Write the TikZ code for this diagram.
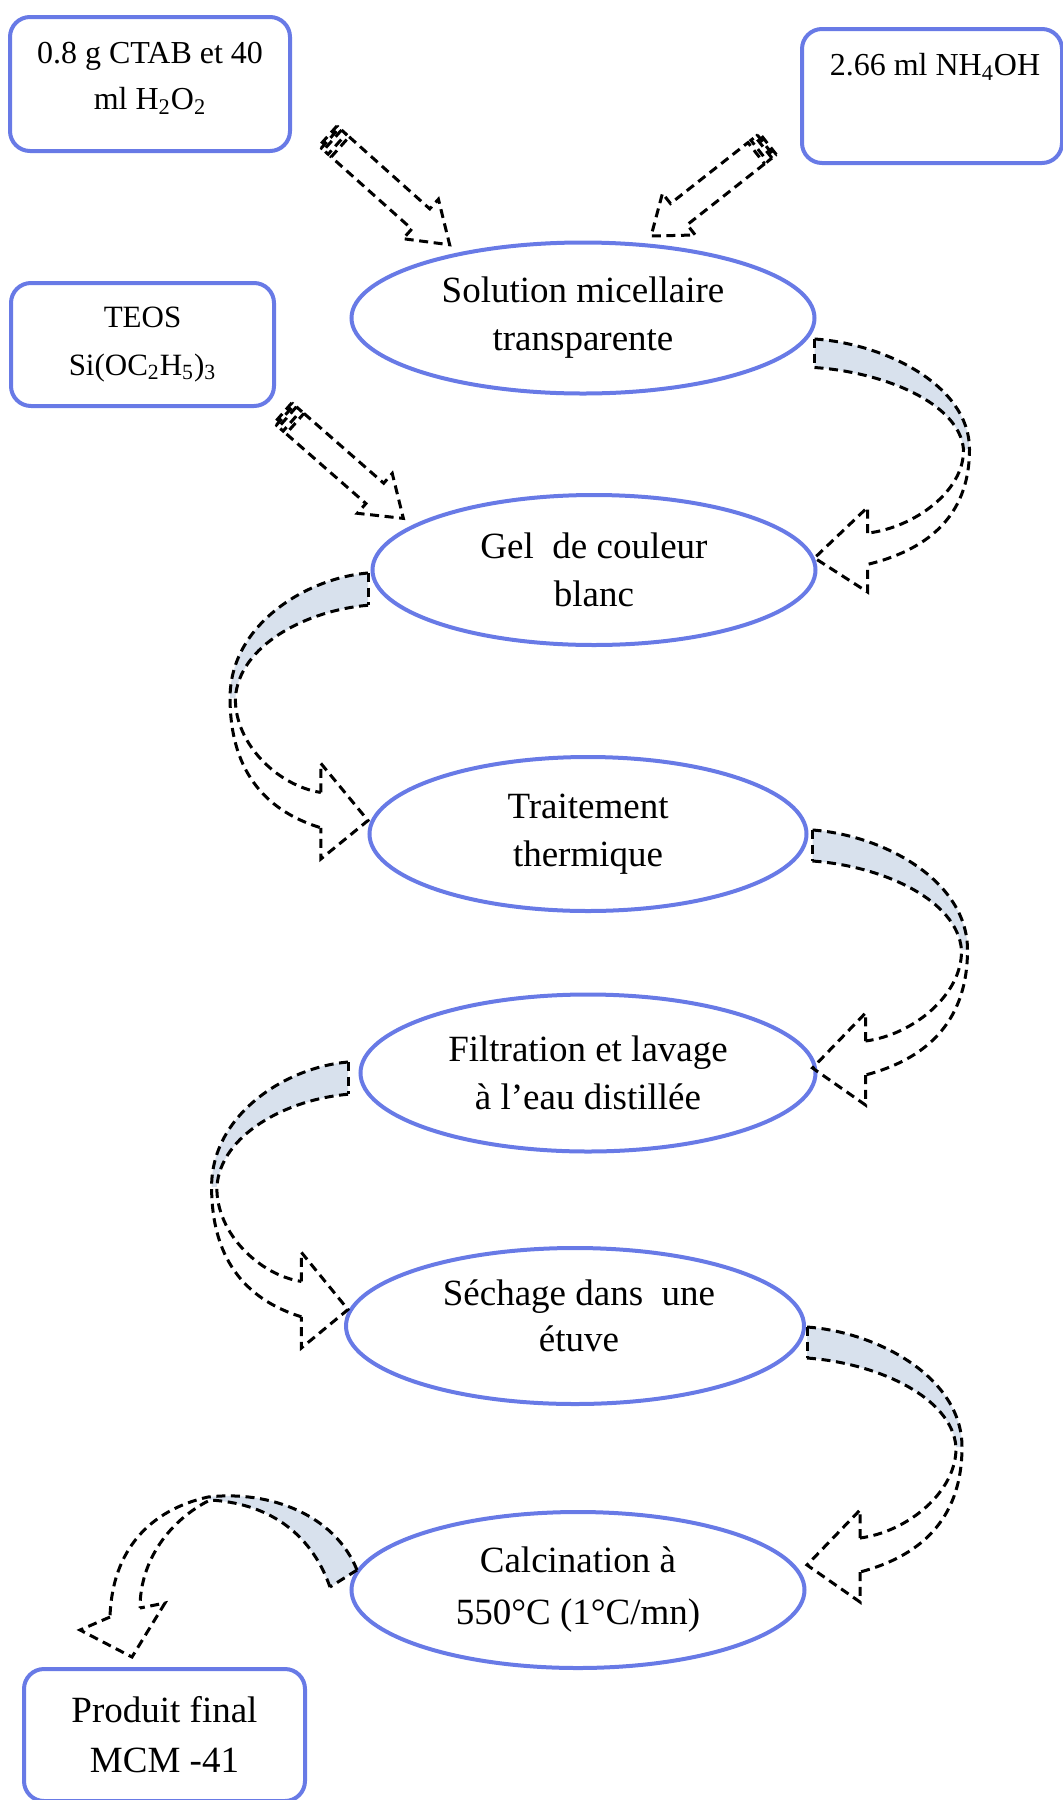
\documentclass[tikz,border=0pt]{standalone}
\usepackage{fontspec}
\setmainfont{Liberation Serif}
\usetikzlibrary{shapes.geometric}

\definecolor{lineblue}{RGB}{104,122,230}
\definecolor{ribbon}{RGB}{216,225,237}

\tikzset{
  stage/.style={draw=lineblue, line width=2pt, ellipse, inner sep=0pt, align=center, font=\fontsize{18.5}{24}\selectfont},
  inbox/.style={draw=lineblue, line width=2pt, rectangle, rounded corners=10pt, inner sep=0pt, align=center},
  dashline/.style={line width=1.5pt, dash pattern=on 4.5pt off 2.8pt},
  % curved ribbon arrow, drawn from the top of its tail
  loopright/.pic={
    \fill[ribbon] (0,0) .. controls (70,5) and (155,50) .. (155,120) -- (149,120) .. controls (145,70) and (70,36) .. (0,31) -- cycle;
    \draw[dashline] (0,0) -- (0,31);
    \draw[dashline] (0,0) .. controls (70,5) and (155,50) .. (155,120) .. controls (155,195) and (110,230) .. (53,245);
    \draw[dashline] (0,31) .. controls (70,36) and (145,70) .. (149,120) .. controls (150,165) and (100,205) .. (53,211);
    \draw[dashline] (53,211) -- (53,183) -- (0,238) -- (53,275) -- (53,245);
  },
  % straight striped arrow, drawn from its tail
  striped/.pic={
    \draw[dashline] (0,-13.5) rectangle (3,13.5);
    \draw[dashline] (6,-13.5) rectangle (12,13.5);
    \draw[dashline] (16,-13.5) -- (122,-13.5) -- (122,-26.5) -- (160,0) -- (122,26.5) -- (122,13.5) -- (16,13.5) -- cycle;
  }
}

\begin{document}
\begin{tikzpicture}[x=0.5pt, y=-0.5pt]
\useasboundingbox (0,0) rectangle (1063,1800);

% Define boxes
\node[inbox, minimum width=140pt, minimum height=67pt] (ctab) at (150,84) {};
\node[align=center, font=\fontsize{16}{23}\selectfont] (ctabtxt) at (150,78) {0.8 g CTAB et 40\\ml H\textsubscript{2}O\textsubscript{2}};
\node[inbox, minimum width=130pt, minimum height=67pt] (nh4) at (932,96) {};
\node[font=\fontsize{16}{20}\selectfont] (nh4txt) at (935,67) {2.66 ml NH\textsubscript{4}OH};
\node[inbox, minimum width=131.5pt, minimum height=61.5pt, font=\fontsize{15.5}{24}\selectfont] (teos) at (142.5,344.5) {TEOS\\Si(OC\textsubscript{2}H\textsubscript{5})\textsubscript{3}};
\node[inbox, minimum width=140.5pt, minimum height=66pt, font=\fontsize{18.5}{25}\selectfont] (prod) at (164.5,1735) {Produit final\\MCM -41};

% Define steps
\node[stage, minimum width=231.5pt, minimum height=75.5pt] (sol) at (583,318) {Solution micellaire\\transparente};
\node[stage, minimum width=221.5pt, minimum height=75pt] (gel) at (594,570) {Gel~ de couleur\\blanc};
\node[stage, minimum width=218.5pt, minimum height=77pt] (trait) at (588,834) {Traitement\\thermique};
\node[stage, minimum width=227.5pt, minimum height=78.5pt] (filt) at (588,1073) {Filtration et lavage\\à l’eau distillée};
\node[stage, minimum width=229pt, minimum height=78pt] (sech) at (575,1326) {};
\node[align=center, font=\fontsize{18.5}{23}\selectfont] (sechtxt) at (579,1316) {Séchage dans~ une\\étuve};
\node[stage, minimum width=226.5pt, minimum height=78pt, font=\fontsize{18.5}{26}\selectfont] (calc) at (578,1590) {Calcination à\\550°C (1°C/mn)};

% Draw arrows
\pic[rotate=-41.8, xscale=1.02] at (328,136) {striped};
\pic[rotate=-141.8, xscale=0.93] at (768,144) {striped};
\pic[rotate=-41.2] at (283,413) {striped};

\pic[yscale=0.92] at ([shift={(-2,21)}]sol.east) {loopright};
\pic[xscale=-0.89, yscale=1.04] at ([shift={(-2.5,3)}]gel.west) {loopright};
\pic at ([shift={(4,-4)}]trait.east) {loopright};
\pic[xscale=-0.88, yscale=1.04] at ([shift={(-10.5,-11)}]filt.west) {loopright};
\pic at ([shift={(1,1)}]sech.east) {loopright};

% last arrow, to the product
\fill[ribbon] (357,1570) .. controls (335,1515) and (270,1490) .. (208,1497) -- (210,1500) .. controls (265,1503) and (310,1530) .. (330,1587) -- cycle;
\draw[dashline] (357,1570) -- (330,1587);
\draw[dashline] (357,1570) .. controls (335,1515) and (270,1490) .. (208,1497) .. controls (150,1510) and (112,1550) .. (110,1617);
\draw[dashline] (330,1587) .. controls (310,1530) and (265,1503) .. (210,1500) .. controls (170,1520) and (140,1560) .. (140,1608);
\draw[dashline] (110,1617) -- (80,1630) -- (132,1657) -- (165,1603) -- (140,1608);

\end{tikzpicture}
\end{document}
